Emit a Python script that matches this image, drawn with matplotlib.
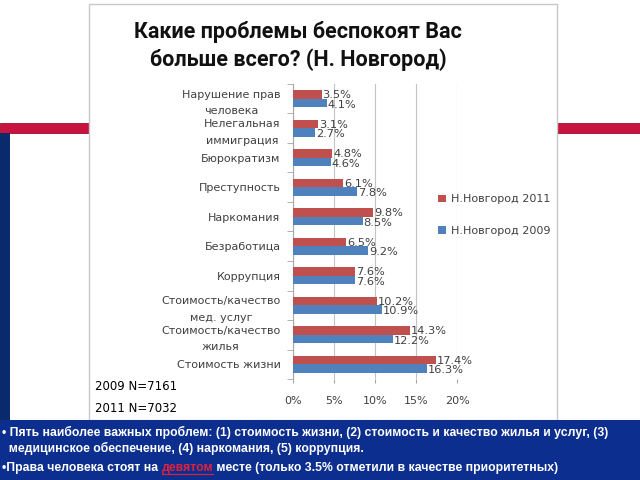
import numpy as np
import matplotlib
matplotlib.use("Agg")
from matplotlib import pyplot as plt
from matplotlib.patches import Rectangle
from matplotlib.lines import Line2D

categories = ["Нарушение прав\nчеловека", "Нелегальная\nиммиграция", "Бюрократизм",
              "Преступность", "Наркомания", "Безработица", "Коррупция",
              "Стоимость/качество\nмед. услуг", "Стоимость/качество\nжилья", "Стоимость жизни"]
vals_2011 = [3.5, 3.1, 4.8, 6.1, 9.8, 6.5, 7.6, 10.2, 14.3, 17.4]
vals_2009 = [4.1, 2.7, 4.6, 7.8, 8.5, 9.2, 7.6, 10.9, 12.2, 16.3]
x_ticks = [0, 5, 10, 15, 20]
series_names = ["Н.Новгород 2011", "Н.Новгород 2009"]
sample_notes = ["2009 N=7161", "2011 N=7032"]
title = "Какие проблемы беспокоят Вас\nбольше всего? (Н. Новгород)"
footer_1 = "• Пять наиболее важных проблем: (1) стоимость жизни, (2) стоимость и качество жилья и услуг, (3)"
footer_2 = "  медицинское обеспечение, (4) наркомания, (5) коррупция."
footer_3 = ["•Права человека стоят на ", "девятом", " месте (только 3.5% отметили в качестве приоритетных)"]

W, H = 640, 480
RED = "#C0504D"
BLUE = "#4F81BD"
GREY_TXT = "#404040"


def fx(x):
    return x / W


def fy(y):
    return 1 - y / H


def box(fig, x0, y0, x1, y1, fc, ec="none", lw=0):
    # pixel coords from top-left
    fig.patches.append(Rectangle((fx(x0), fy(y1)), fx(x1 - x0), (y1 - y0) / H,
                                 transform=fig.transFigure, fc=fc, ec=ec, lw=lw, zorder=-5))


fig = plt.figure(figsize=(6.4, 4.8), dpi=100)
fig.patch.set_facecolor("white")

# slide decoration
box(fig, 0, 123, 89, 133, "#C8133F", "#9e0f30", 0.6)
box(fig, 557, 123, 640, 133, "#C8133F", "#9e0f30", 0.6)
box(fig, 0, 133, 10, 420, "#0a2a6e")
box(fig, 89, 4, 557, 420, "white", "#c8c8c8", 1.0)
box(fig, 0, 420, 640, 480, "#0c2f8f")

ax = fig.add_axes([fx(293), fy(379), fx(164), 295 / H])
ax.set_facecolor("none")

n = len(categories)
y = np.arange(n)
h = 0.29
b11 = ax.barh(y - h / 2, vals_2011, height=h, color=RED, zorder=3)
b09 = ax.barh(y + h / 2, vals_2009, height=h, color=BLUE, zorder=3)

for i in range(n):
    ax.text(vals_2011[i] + 0.1, y[i] - h / 2 + 0.02, f"{vals_2011[i]}%", va="center", ha="left",
            fontsize=8.2, color=GREY_TXT, zorder=4)
    ax.text(vals_2009[i] + 0.1, y[i] + h / 2 + 0.06, f"{vals_2009[i]}%", va="center", ha="left",
            fontsize=8.2, color=GREY_TXT, zorder=4)

ax.set_xlim(0, 20)
ax.set_ylim(n - 0.5, -0.5)
ax.set_xticks(x_ticks)
ax.set_xticklabels([f"{t}%" for t in x_ticks])
ax.grid(axis="x", color="#c4c4c4", lw=0.8, zorder=0)
for s in ["top", "right", "bottom"]:
    ax.spines[s].set_visible(False)
ax.spines["left"].set_color("#a6a6a6")
ax.tick_params(axis="x", length=3, color="#a6a6a6", labelsize=8, labelcolor=GREY_TXT, pad=9)

ax.set_yticks(y)
ax.set_yticklabels(categories)
ax.set_yticks(np.arange(-0.5, n, 1), minor=True)
ax.tick_params(axis="y", which="major", length=0, labelsize=8, labelcolor=GREY_TXT, pad=9)
ax.tick_params(axis="y", which="minor", length=4, color="#a6a6a6")
for t in ax.get_yticklabels():
    t.set_multialignment("center")
    t.set_linespacing(1.8)

fig.legend([b11, b09], series_names, loc="center left", bbox_to_anchor=(fx(428), fy(215)),
           frameon=False, fontsize=8, labelcolor=GREY_TXT, handlelength=0.7, handleheight=0.7,
           labelspacing=1.9, handletextpad=0.5)

fig.text(fx(298), fy(46), title, ha="center", va="center", fontsize=15.5, fontweight="bold",
         family="Roboto", linespacing=1.35, color="#111111")

fig.text(fx(95), fy(387), sample_notes[0], ha="left", va="center", fontsize=8.5, color="black")
fig.text(fx(95), fy(408), sample_notes[1], ha="left", va="center", fontsize=8.5, color="black")

ft = dict(fontsize=8.8, fontweight="bold", color="white", family="Liberation Sans", va="center")
fig.text(fx(2), fy(432), footer_1, ha="left", **ft)
fig.text(fx(2), fy(448), footer_2, ha="left", **ft)

renderer = fig.canvas.get_renderer()
x = 2
for k, part in enumerate(footer_3):
    style = dict(ft)
    if k == 1:
        style["color"] = "#e0203c"
    t = fig.text(fx(x), fy(468), part, ha="left", **style)
    bb = t.get_window_extent(renderer)
    if k == 1:
        fig.lines.append(Line2D([fx(x), fx(x + bb.width)], [fy(474), fy(474)],
                                transform=fig.transFigure, color="#e0203c", lw=0.8))
    x += bb.width

fig.savefig("out.png", dpi=100)
